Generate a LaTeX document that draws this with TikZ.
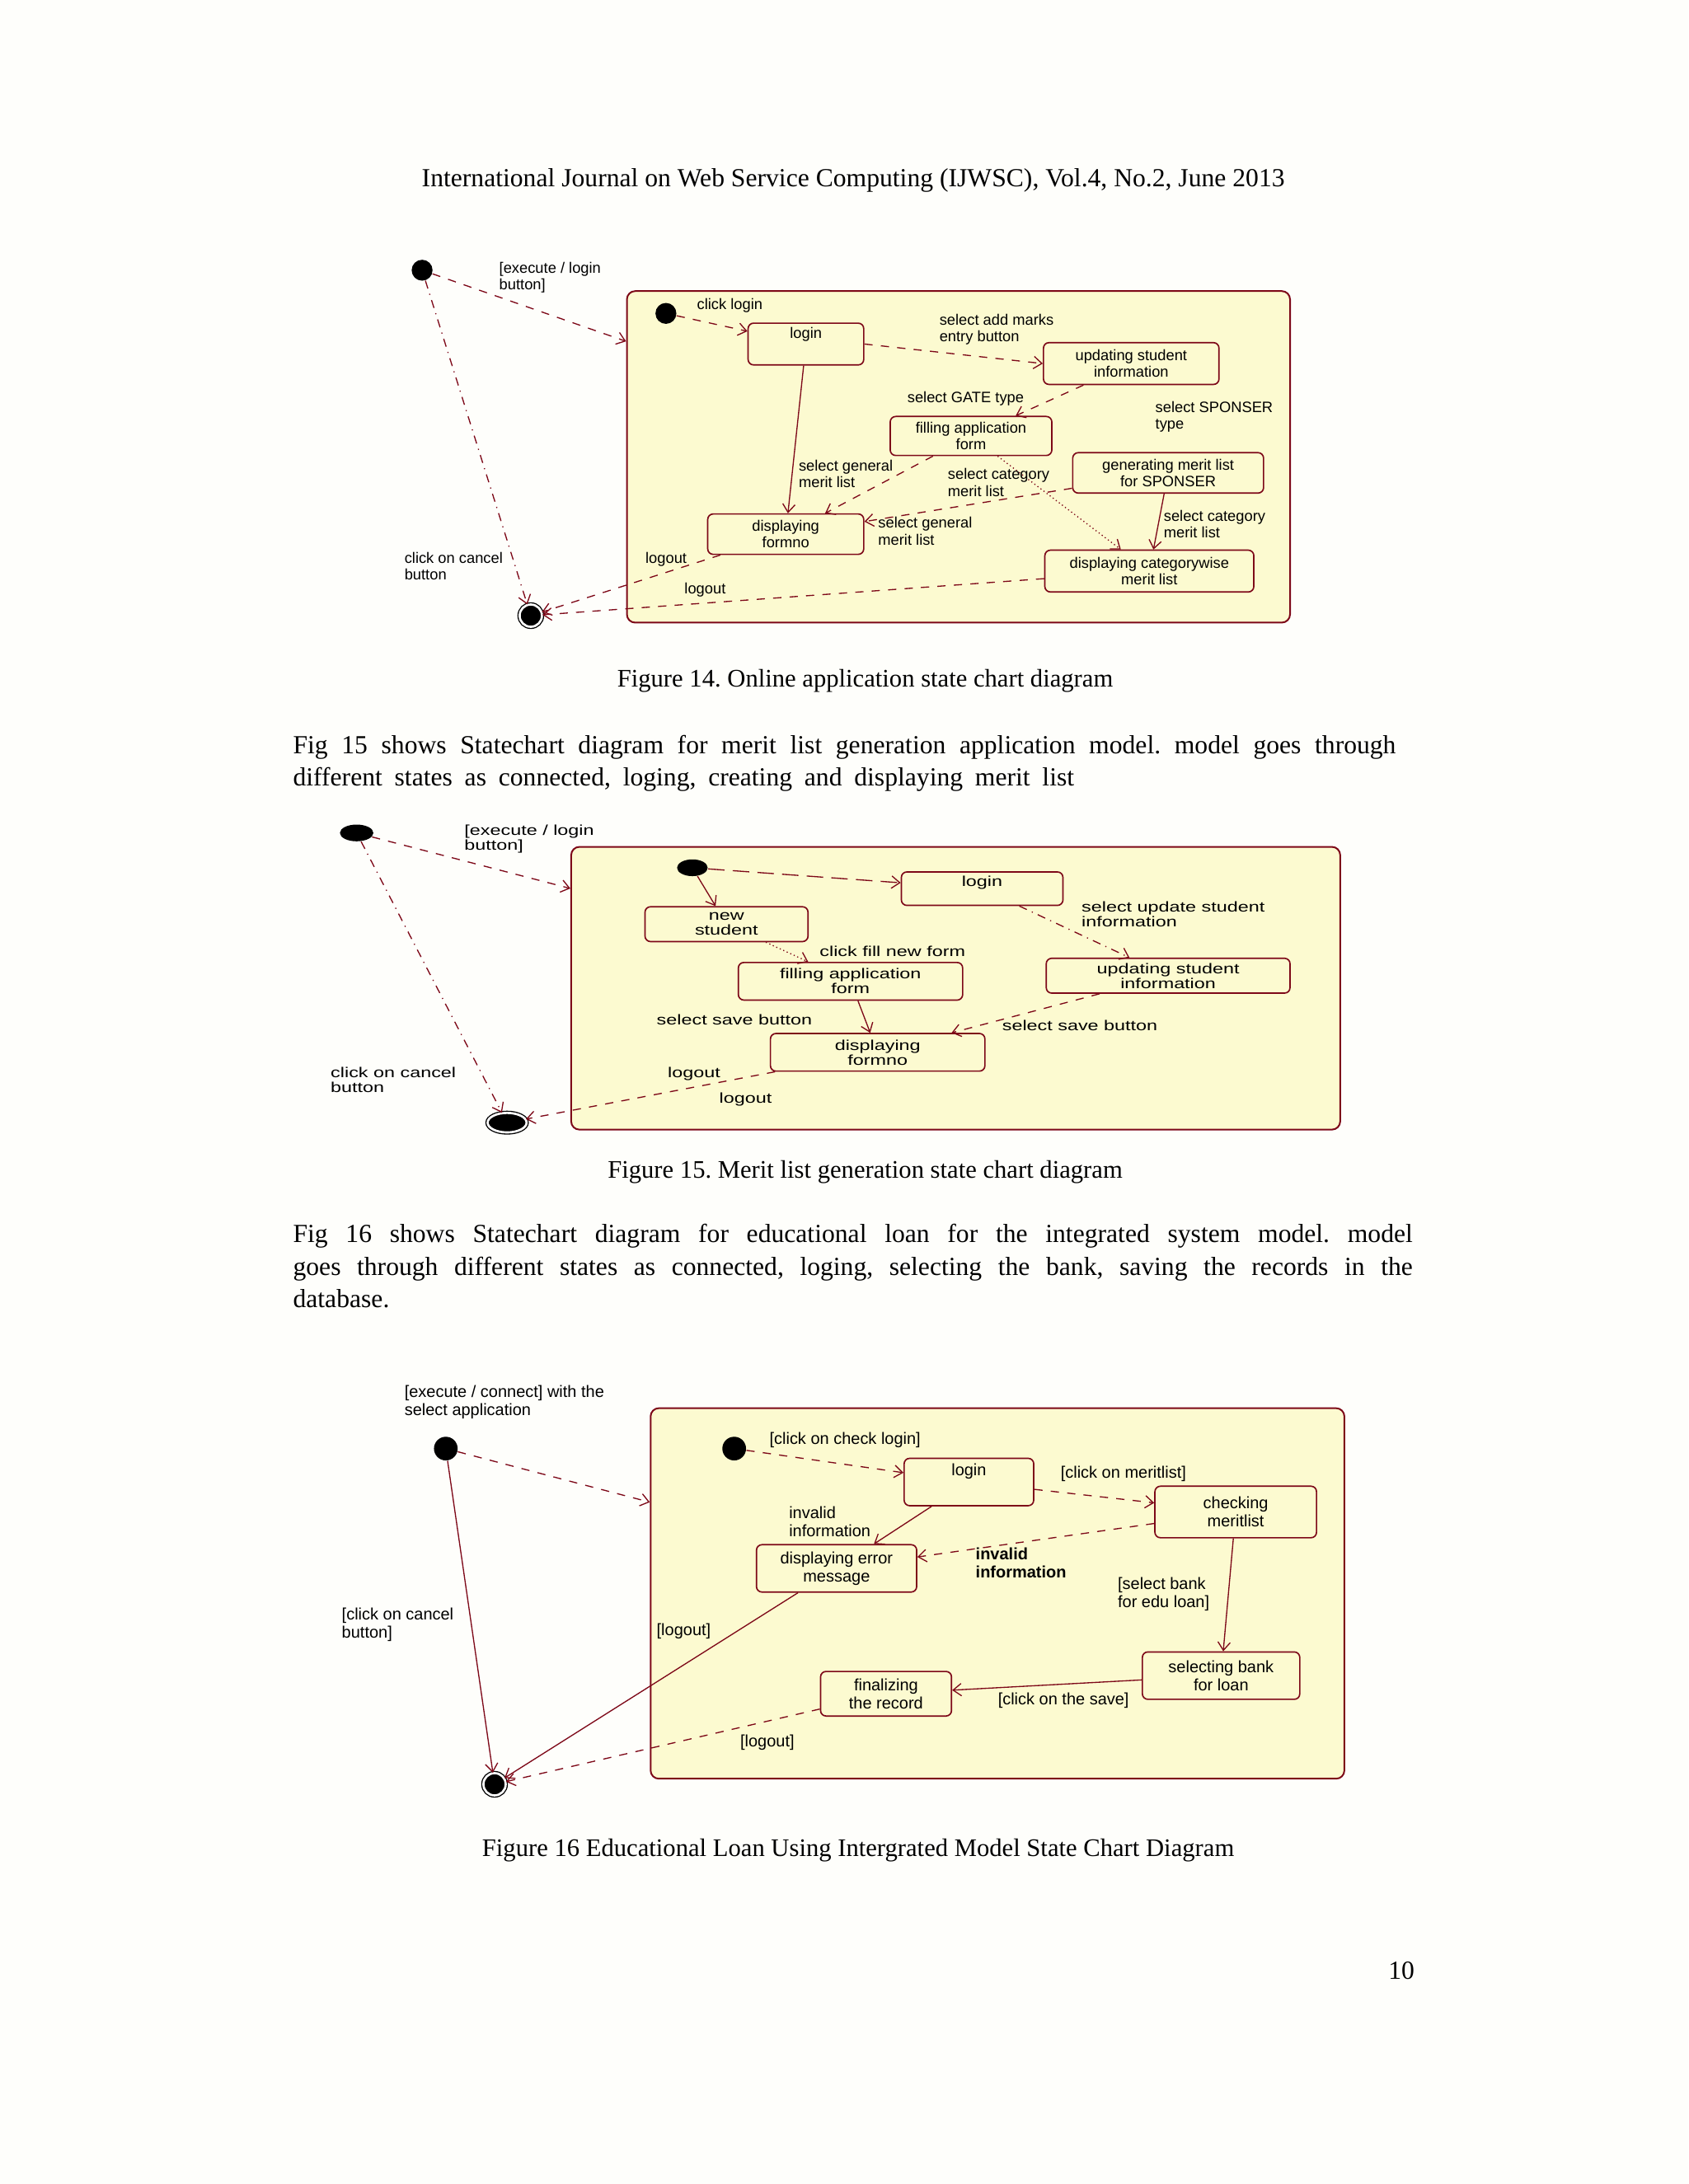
\documentclass[tikz,border=0pt]{standalone}
\usepackage{fontspec}
\setmainfont{Liberation Serif}
\newfontfamily\diagfont{Liberation Sans}
\newfontfamily\diagwide[FakeStretch=1.35]{Liberation Sans}
\usetikzlibrary{arrows.meta,shapes.geometric}
\definecolor{umlred}{RGB}{125,8,24}
\definecolor{umlfill}{RGB}{252,250,208}
\definecolor{pagebg}{RGB}{254,254,251}
\frenchspacing
\newcommand\pxu{0.01783cm}
\newcommand\figa{\fontsize{5.5}{6.1}\selectfont\diagfont}
\newcommand\figb{\fontsize{5.2}{5.4}\selectfont\diagwide}
\newcommand\figc{\fontsize{6}{6.6}\selectfont\diagfont}
\newcommand\bodyfont{\fontsize{9.5}{11.6}\selectfont}
\newcommand\capfont{\fontsize{9.2}{11}\selectfont}

\begin{document}
\begin{tikzpicture}[x=0.01783cm, y=-0.01783cm,
  tr/.style={umlred, line width=0.4pt, dashed, -{Straight Barb[length=3pt,width=4.5pt]}},
  trs/.style={tr, solid},
  comp/.style={draw=umlred, fill=umlfill, rounded corners=3pt, line width=0.6pt},
  state/.style={draw=umlred, fill=umlfill, rounded corners=2pt, align=center, inner sep=1pt, line width=0.5pt},
  ini/.style={circle, fill=black, inner sep=0pt, minimum size=15*\pxu},
  fin/.style={circle, fill=black, draw=black, double=white, double distance=0.8pt, line width=0.4pt, inner sep=0pt, minimum size=16*\pxu},
  lbl/.style={anchor=north west, inner sep=0pt, align=left},
  txt/.style={font=\bodyfont, inner sep=0pt, anchor=base},
  captxt/.style={txt, font=\capfont}]
  \fill[pagebg] (0,0) rectangle (1212,1568);
  \useasboundingbox (0,0) rectangle (1212,1568);

  \node[txt] (head) at (612.5,134) {International Journal on Web Service Computing (IJWSC), Vol.4, No.2, June 2013};

  \begin{scope}[every node/.append style={font=\figa}]
    \node[comp, minimum width=476*\pxu, minimum height=238*\pxu] (app14) at (688,328) {};
    \node[ini] (top14) at (303,194) {};
    \node[fin] (end14) at (381,442) {};
    \node[ini] (start14) at (478,225) {};
    \node[state, minimum width=83*\pxu, minimum height=30*\pxu,
      label={[anchor=north, inner sep=1.5pt]north:login}] (login14) at (578.5,247) {};
    \node[state, minimum width=126*\pxu, minimum height=30*\pxu] (upd14) at (812,261) {updating student\\information};
    \node[state, minimum width=116*\pxu, minimum height=28*\pxu] (fill14) at (697,313) {filling application\\form};
    \node[state, minimum width=137*\pxu, minimum height=29*\pxu] (gen14) at (838.5,339.5) {generating merit list\\for SPONSER};
    \node[state, minimum width=112*\pxu, minimum height=29*\pxu] (disp14) at (564,383.5) {displaying\\formno};
    \node[state, minimum width=150*\pxu, minimum height=30*\pxu] (cat14) at (825,410) {displaying categorywise\\merit list};

    \draw[tr] (top14) -- (app14);
    \draw[tr, dash dot] (top14) -- (end14);
    \draw[tr] (start14) -- (login14);
    \draw[tr] (login14.east) -- (upd14.west);
    \draw[tr] (upd14) -- (fill14);
    \draw[trs] (login14) -- (disp14);
    \draw[tr] (fill14) -- (disp14);
    \draw[tr] (gen14) -- (disp14);
    \draw[tr, densely dotted] (fill14) -- (cat14);
    \draw[trs] (gen14) -- (cat14);
    \draw[tr] (disp14) -- (end14);
    \draw[tr] (cat14) -- (end14);

    \node[lbl] (exec14) at (358,188) {[execute / login\\button]};
    \node[lbl] (click14) at (500,214) {click login};
    \node[lbl] (marks14) at (674,225) {select add marks\\entry button};
    \node[lbl] (gate14) at (651,281) {select GATE type};
    \node[lbl] (spon14) at (829,288) {select SPONSER\\type};
    \node[lbl] (gena14) at (573,330) {select general\\merit list};
    \node[lbl] (cata14) at (680,336) {select category\\merit list};
    \node[lbl] (genb14) at (630,371) {select general\\merit list};
    \node[lbl] (catb14) at (835,366) {select category\\merit list};
    \node[lbl] (outa14) at (463,396) {logout};
    \node[lbl] (outb14) at (491,418) {logout};
    \node[lbl] (cancel14) at (290,396) {click on cancel\\button};
  \end{scope}

  \node[captxt] (cap14) at (621,493) {Figure 14. Online application state chart diagram};
  \node[txt, anchor=base west] (para1a) at (210,541) {\makebox[14.12cm][s]{Fig 15 shows Statechart diagram for merit list generation application model. model goes through}};
  \node[txt, anchor=base west] (para1b) at (210,564) {\makebox[10.0cm][s]{different states as connected, loging, creating and displaying merit list}};

  \begin{scope}[every node/.append style={font=\figb}]
    \node[comp, minimum width=552*\pxu, minimum height=203*\pxu] (app15) at (686,709.5) {};
    \node[ini, ellipse, minimum width=24*\pxu, minimum height=12*\pxu] (top15) at (256,598) {};
    \node[fin, ellipse, minimum width=28*\pxu, minimum height=14*\pxu] (end15) at (364,806) {};
    \node[ini, ellipse, minimum width=22*\pxu, minimum height=12*\pxu] (start15) at (497,623) {};
    \node[state, minimum width=116*\pxu, minimum height=24*\pxu,
      label={[anchor=north, inner sep=1.5pt]north:login}] (login15) at (705,638) {};
    \node[state, minimum width=117*\pxu, minimum height=25*\pxu] (new15) at (521.5,663.5) {new\\student};
    \node[state, minimum width=161*\pxu, minimum height=27*\pxu] (fill15) at (610.5,704.5) {filling application\\form};
    \node[state, minimum width=175*\pxu, minimum height=25*\pxu] (upd15) at (838.5,700.5) {updating student\\information};
    \node[state, minimum width=154*\pxu, minimum height=27*\pxu] (disp15) at (630,755.5) {displaying\\formno};

    \draw[tr] (top15) -- (app15);
    \draw[tr, dash dot] (top15) -- (end15);
    \draw[tr, dash pattern=on 6pt off 3pt] (start15) -- (login15);
    \draw[trs] (start15) -- (new15);
    \draw[tr, dash dot] (login15) -- (upd15);
    \draw[tr, densely dotted] (new15) -- (fill15);
    \draw[trs] (fill15) -- (disp15);
    \draw[tr] (upd15) -- (disp15);
    \draw[tr] (disp15) -- (end15);

    \node[lbl] (exec15) at (333,592) {[execute / login\\button]};
    \node[lbl] (updl15) at (776,647) {select update student\\information};
    \node[lbl] (filll15) at (588,679) {click fill new form};
    \node[lbl] (savea15) at (471,728) {select save button};
    \node[lbl] (saveb15) at (719,732) {select save button};
    \node[lbl] (outa15) at (479,766) {logout};
    \node[lbl] (outb15) at (516,784) {logout};
    \node[lbl] (cancel15) at (237,766) {click on cancel\\button};
  \end{scope}

  \node[captxt] (cap15) at (621,846) {Figure 15. Merit list generation state chart diagram};
  \node[txt, anchor=base west] (para2a) at (210,892) {\makebox[14.335cm][s]{Fig 16 shows Statechart diagram for educational loan for the integrated system model. model}};
  \node[txt, anchor=base west] (para2b) at (210,915.5) {\makebox[14.335cm][s]{goes through different states as connected, loging, selecting the bank, saving the records in the}};
  \node[txt, anchor=base west] (para2c) at (210,939) {database.};

  \begin{scope}[every node/.append style={font=\figc}]
    \node[comp, minimum width=498*\pxu, minimum height=266*\pxu] (app16) at (716,1144) {};
    \node[ini, minimum size=17*\pxu] (top16) at (320,1040) {};
    \node[fin] (end16) at (355,1281) {};
    \node[ini, minimum size=17*\pxu] (start16) at (527,1040) {};
    \node[state, minimum width=93*\pxu, minimum height=34*\pxu,
      label={[anchor=north, inner sep=2pt]north:login}] (login16) at (695.5,1064) {};
    \node[state, minimum width=116*\pxu, minimum height=37*\pxu] (chk16) at (887,1085.5) {checking\\meritlist};
    \node[state, minimum width=115*\pxu, minimum height=34*\pxu] (err16) at (600.5,1126) {displaying error\\message};
    \node[state, minimum width=113*\pxu, minimum height=34*\pxu] (sel16) at (876.5,1203) {selecting bank\\for loan};
    \node[state, minimum width=94*\pxu, minimum height=32*\pxu] (rec16) at (636,1216) {finalizing\\the record};

    \draw[tr] (top16) -- (app16);
    \draw[trs] (top16) -- (end16);
    \draw[tr] (start16) -- (login16);
    \draw[tr] (login16) -- (chk16);
    \draw[trs] (login16) -- (err16);
    \draw[tr] (chk16) -- (err16);
    \draw[trs] (chk16) -- (sel16);
    \draw[trs] (sel16) -- (rec16);
    \draw[trs] (err16) -- (end16);
    \draw[tr] (rec16) -- (end16);

    \node[lbl] (exec16) at (290,994) {[execute / connect] with the\\select application};
    \node[lbl] (chkl16) at (552,1028) {[click on check login]};
    \node[lbl] (merit16) at (761,1052) {[click on meritlist]};
    \node[lbl] (inva16) at (566,1081) {invalid\\information};
    \node[lbl, font=\figc\bfseries] (invb16) at (700,1111) {invalid\\information};
    \node[lbl] (bank16) at (802,1132) {[select bank\\for edu loan]};
    \node[lbl] (save16) at (716,1215) {[click on the save]};
    \node[lbl] (outa16) at (471,1165) {[logout]};
    \node[lbl] (outb16) at (531,1245) {[logout]};
    \node[lbl] (cancel16) at (245,1154) {[click on cancel\\button]};
  \end{scope}

  \node[captxt] (cap16) at (616,1333) {Figure 16 Educational Loan Using Intergrated Model State Chart Diagram};
  \node[txt] (pageno) at (1006,1421) {10};
\end{tikzpicture}
\end{document}
